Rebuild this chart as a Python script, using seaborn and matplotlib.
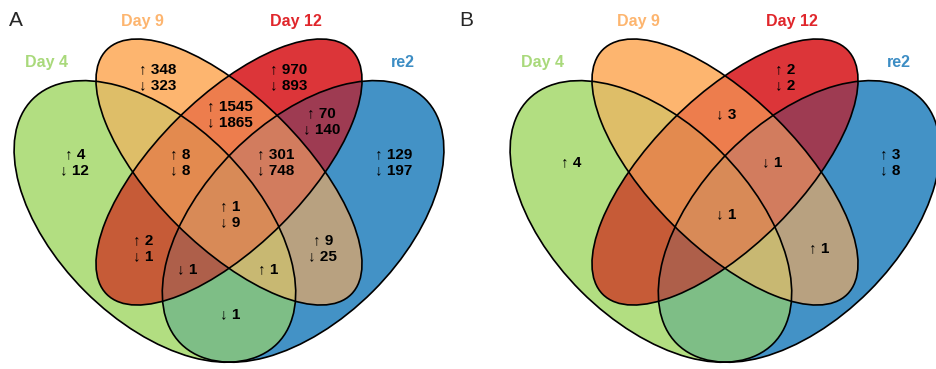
import numpy as np
import matplotlib
matplotlib.use("Agg")
import matplotlib.pyplot as plt
from matplotlib.patches import Ellipse
from matplotlib.colors import to_rgb
import seaborn as sns

sns.set_theme(style="white")
plt.rcParams['font.family'] = ['Liberation Sans', 'DejaVu Sans']

# ---- data ----
set_names = ["Day 4", "Day 9", "Day 12", "re2"]
label_colors = ["#A9D97B", "#FDB56F", "#E0262B", "#3C8DC4"]

# region membership (Day 4, Day 9, Day 12, re2)
region_keys = ["1000", "0100", "0010", "0001", "1100", "0110", "0011", "1010",
               "0101", "1001", "1110", "0111", "1011", "1101", "1111"]
region_colors = ["#B3DE81", "#FDB56F", "#DC3539", "#4392C6", "#DFBE68", "#EE7D4D",
                 "#9E3B52", "#C65B37", "#B8A180", "#7EBE87", "#E38B4F", "#D27C5E",
                 "#AE5F4B", "#C9B872", "#D88B57"]

panelA_up = [4, 348, 970, 129, None, 1545, 70, 2, 9, None, 8, 301, None, 1, 1]
panelA_down = [12, 323, 893, 197, None, 1865, 140, 1, 25, 1, 8, 748, 1, None, 9]
panelB_up = [4, None, 2, 3, None, None, None, None, 1, None, None, None, None, None, None]
panelB_down = [None, None, 2, 8, None, 3, None, None, None, None, None, 1, None, None, 1]

# ---- layout (VennDiagram quad layout, unit square) ----
ell_x = [0.35, 0.5, 0.5, 0.65]
ell_y = [0.47, 0.57, 0.57, 0.47]
ell_a = [0.35, 0.35, 0.35, 0.35]
ell_b = [0.20, 0.15, 0.15, 0.20]
ell_rot = [-45, -45, 45, 45]

region_pos = [(0.188, 0.590), (0.356, 0.762), (0.621, 0.762), (0.834, 0.590),
              (0.312, 0.673), (0.502, 0.687), (0.688, 0.673), (0.326, 0.416),
              (0.690, 0.416), (0.502, 0.282), (0.401, 0.590), (0.595, 0.590),
              (0.415, 0.373), (0.579, 0.373), (0.502, 0.485)]
cat_pos = [(0.130, 0.791), (0.324, 0.874), (0.636, 0.874), (0.852, 0.791)]

W, H = 936, 369
S = 494.0
fig = plt.figure(figsize=(W / 100, H / 100), dpi=100)


def draw_panel(ax_left_px, x0_px, ups, downs):
    ax = fig.add_axes([ax_left_px / W, 0, 468 / W, 1])
    xl = (ax_left_px - x0_px) / S
    xr = (ax_left_px + 468 - x0_px) / S
    yb = (453.6 - H) / S
    yt = 453.6 / S
    # raster of region colours
    nx, ny = 468 * 3, H * 3
    xs = np.linspace(xl, xr, nx)
    ys = np.linspace(yb, yt, ny)
    X, Y = np.meshgrid(xs, ys)
    masks = []
    for cx, cy, a, b, r in zip(ell_x, ell_y, ell_a, ell_b, ell_rot):
        t = np.deg2rad(r)
        dx, dy = X - cx, Y - cy
        u = dx * np.cos(t) + dy * np.sin(t)
        v = -dx * np.sin(t) + dy * np.cos(t)
        masks.append((u / a) ** 2 + (v / b) ** 2 <= 1)
    img = np.zeros((ny, nx, 4))
    for key, col in zip(region_keys, region_colors):
        m = np.ones_like(X, dtype=bool)
        for i, ch in enumerate(key):
            m &= masks[i] if ch == "1" else ~masks[i]
        img[m, :3] = to_rgb(col)
        img[m, 3] = 1.0
    ax.imshow(img, extent=(xl, xr, yb, yt), origin="lower", aspect="auto",
              interpolation="antialiased")
    for cx, cy, a, b, r in zip(ell_x, ell_y, ell_a, ell_b, ell_rot):
        ax.add_patch(Ellipse((cx, cy), 2 * a, 2 * b, angle=r, fill=False,
                             ec="black", lw=1.2))
    for (px, py), u, d in zip(region_pos, ups, downs):
        lines = []
        if u is not None:
            lines.append(f"↑ {u}")
        if d is not None:
            lines.append(f"↓ {d}")
        if lines:
            ax.text(px, py, "\n".join(lines), ha="center", va="center",
                    fontsize=11, fontweight="bold", color="black", linespacing=1.2)
    for (px, py), name, col in zip(cat_pos, set_names, label_colors):
        ax.text(px, py, name, ha="center", va="center", fontsize=11.5,
                fontweight="bold", color=col)
    ax.set_xlim(xl, xr)
    ax.set_ylim(yb, yt)
    ax.axis("off")
    return ax


draw_panel(0, -18, panelA_up, panelA_down)
draw_panel(468, 478, panelB_up, panelB_down)

fig.text(16 / W, 1 - 20 / H, "A", fontsize=15, ha="center", va="center")
fig.text(466 / W, 1 - 20 / H, "B", fontsize=15, ha="center", va="center")

fig.savefig("out.png", dpi=100)
